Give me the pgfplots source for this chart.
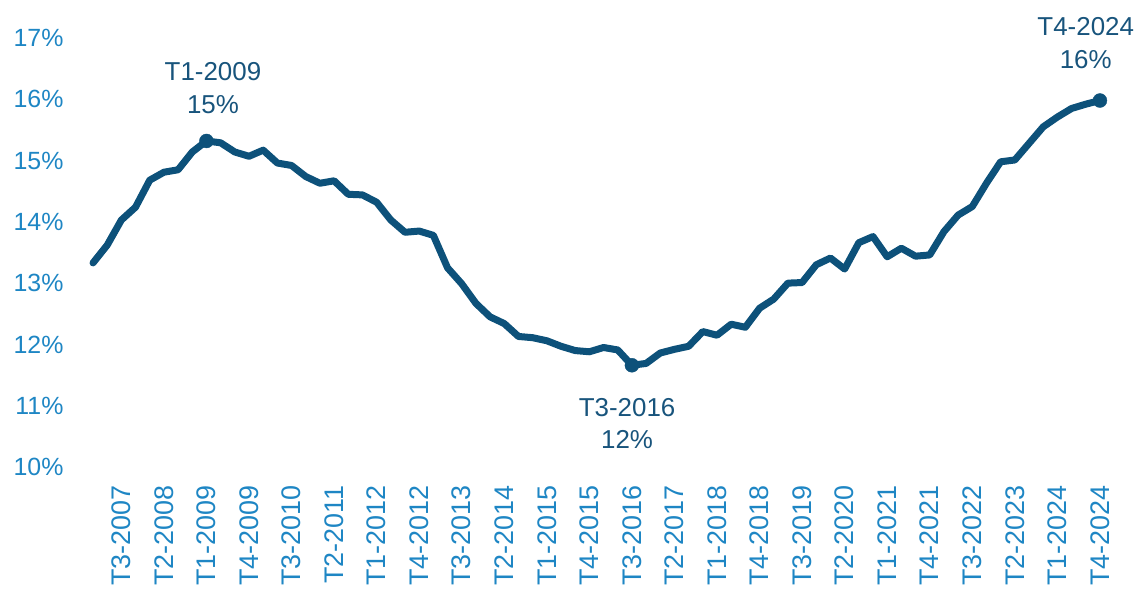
\documentclass[border=0pt]{standalone}
\usepackage{fontspec}
\setmainfont{Liberation Sans}
\usepackage{pgfplots}
\pgfplotsset{compat=1.18}
\definecolor{linecol}{RGB}{13,81,122}
\definecolor{tickcol}{RGB}{30,134,196}
\definecolor{annocol}{RGB}{24,84,124}
\begin{document}
\begin{tikzpicture}
\useasboundingbox (-93bp,-125bp) rectangle (1042bp,467bp);
\begin{axis}[
  scale only axis,
  width=1007bp, height=429bp,
  xmin=0, xmax=71, ymin=10, ymax=17,
  axis line style={draw=none},
  major tick length=0pt,
  clip=false,
  ytick={10,11,12,13,14,15,16,17},
  yticklabels={10\%,11\%,12\%,13\%,14\%,15\%,16\%,17\%},
  xtick={2,5,8,11,14,17,20,23,26,29,32,35,38,41,44,47,50,53,56,59,62,65,68,71},
  xticklabels={T3-2007,T2-2008,T1-2009,T4-2009,T3-2010,T2-2011,T1-2012,T4-2012,T3-2013,T2-2014,T1-2015,T4-2015,T3-2016,T2-2017,T1-2018,T4-2018,T3-2019,T2-2020,T1-2021,T4-2021,T3-2022,T2-2023,T1-2024,T4-2024},
  yticklabel style={font=\fontsize{25}{28}\selectfont, text=tickcol, anchor=east, xshift=-26bp},
  xticklabel style={font=\fontsize{27}{30}\selectfont, text=tickcol, rotate=90, anchor=east, xshift=-15bp},
]
\addplot[linecol, line width=7bp, line join=round, line cap=round] coordinates {
(0,13.33) (1,13.62) (2,14.03) (3,14.24) (4,14.68) (5,14.81) (6,14.85) (7,15.14)
(8,15.32) (9,15.29) (10,15.14) (11,15.07) (12,15.17) (13,14.96) (14,14.92) (15,14.74)
(16,14.63) (17,14.67) (18,14.45) (19,14.44) (20,14.32) (21,14.03) (22,13.83) (23,13.85)
(24,13.78) (25,13.25) (26,12.99) (27,12.67) (28,12.45) (29,12.34) (30,12.13) (31,12.11)
(32,12.06) (33,11.97) (34,11.90) (35,11.88) (36,11.95) (37,11.91) (38,11.66) (39,11.69)
(40,11.86) (41,11.92) (42,11.97) (43,12.21) (44,12.15) (45,12.33) (46,12.28) (47,12.59)
(48,12.74) (49,13.00) (50,13.01) (51,13.30) (52,13.41) (53,13.23) (54,13.66) (55,13.76)
(56,13.43) (57,13.57) (58,13.44) (59,13.46) (60,13.84) (61,14.11) (62,14.25) (63,14.63)
(64,14.98) (65,15.01) (66,15.28) (67,15.55) (68,15.71) (69,15.85) (70,15.92) (71,15.98)
};
\addplot[only marks, mark=*, mark size=7bp, color=linecol] coordinates {
(8,15.32) (38,11.66) (71,15.98)
};
\node[align=center, text=annocol, font=\fontsize{26}{33}\selectfont] at (axis cs:8.46,16.18) {T1-2009\\15\%};
\node[align=center, text=annocol, font=\fontsize{26}{33}\selectfont] at (axis cs:37.66,10.71) {T3-2016\\12\%};
\node[align=center, text=annocol, font=\fontsize{26}{33}\selectfont] at (axis cs:70.0,16.91) {T4-2024\\16\%};
\end{axis}
\end{tikzpicture}
\end{document}
